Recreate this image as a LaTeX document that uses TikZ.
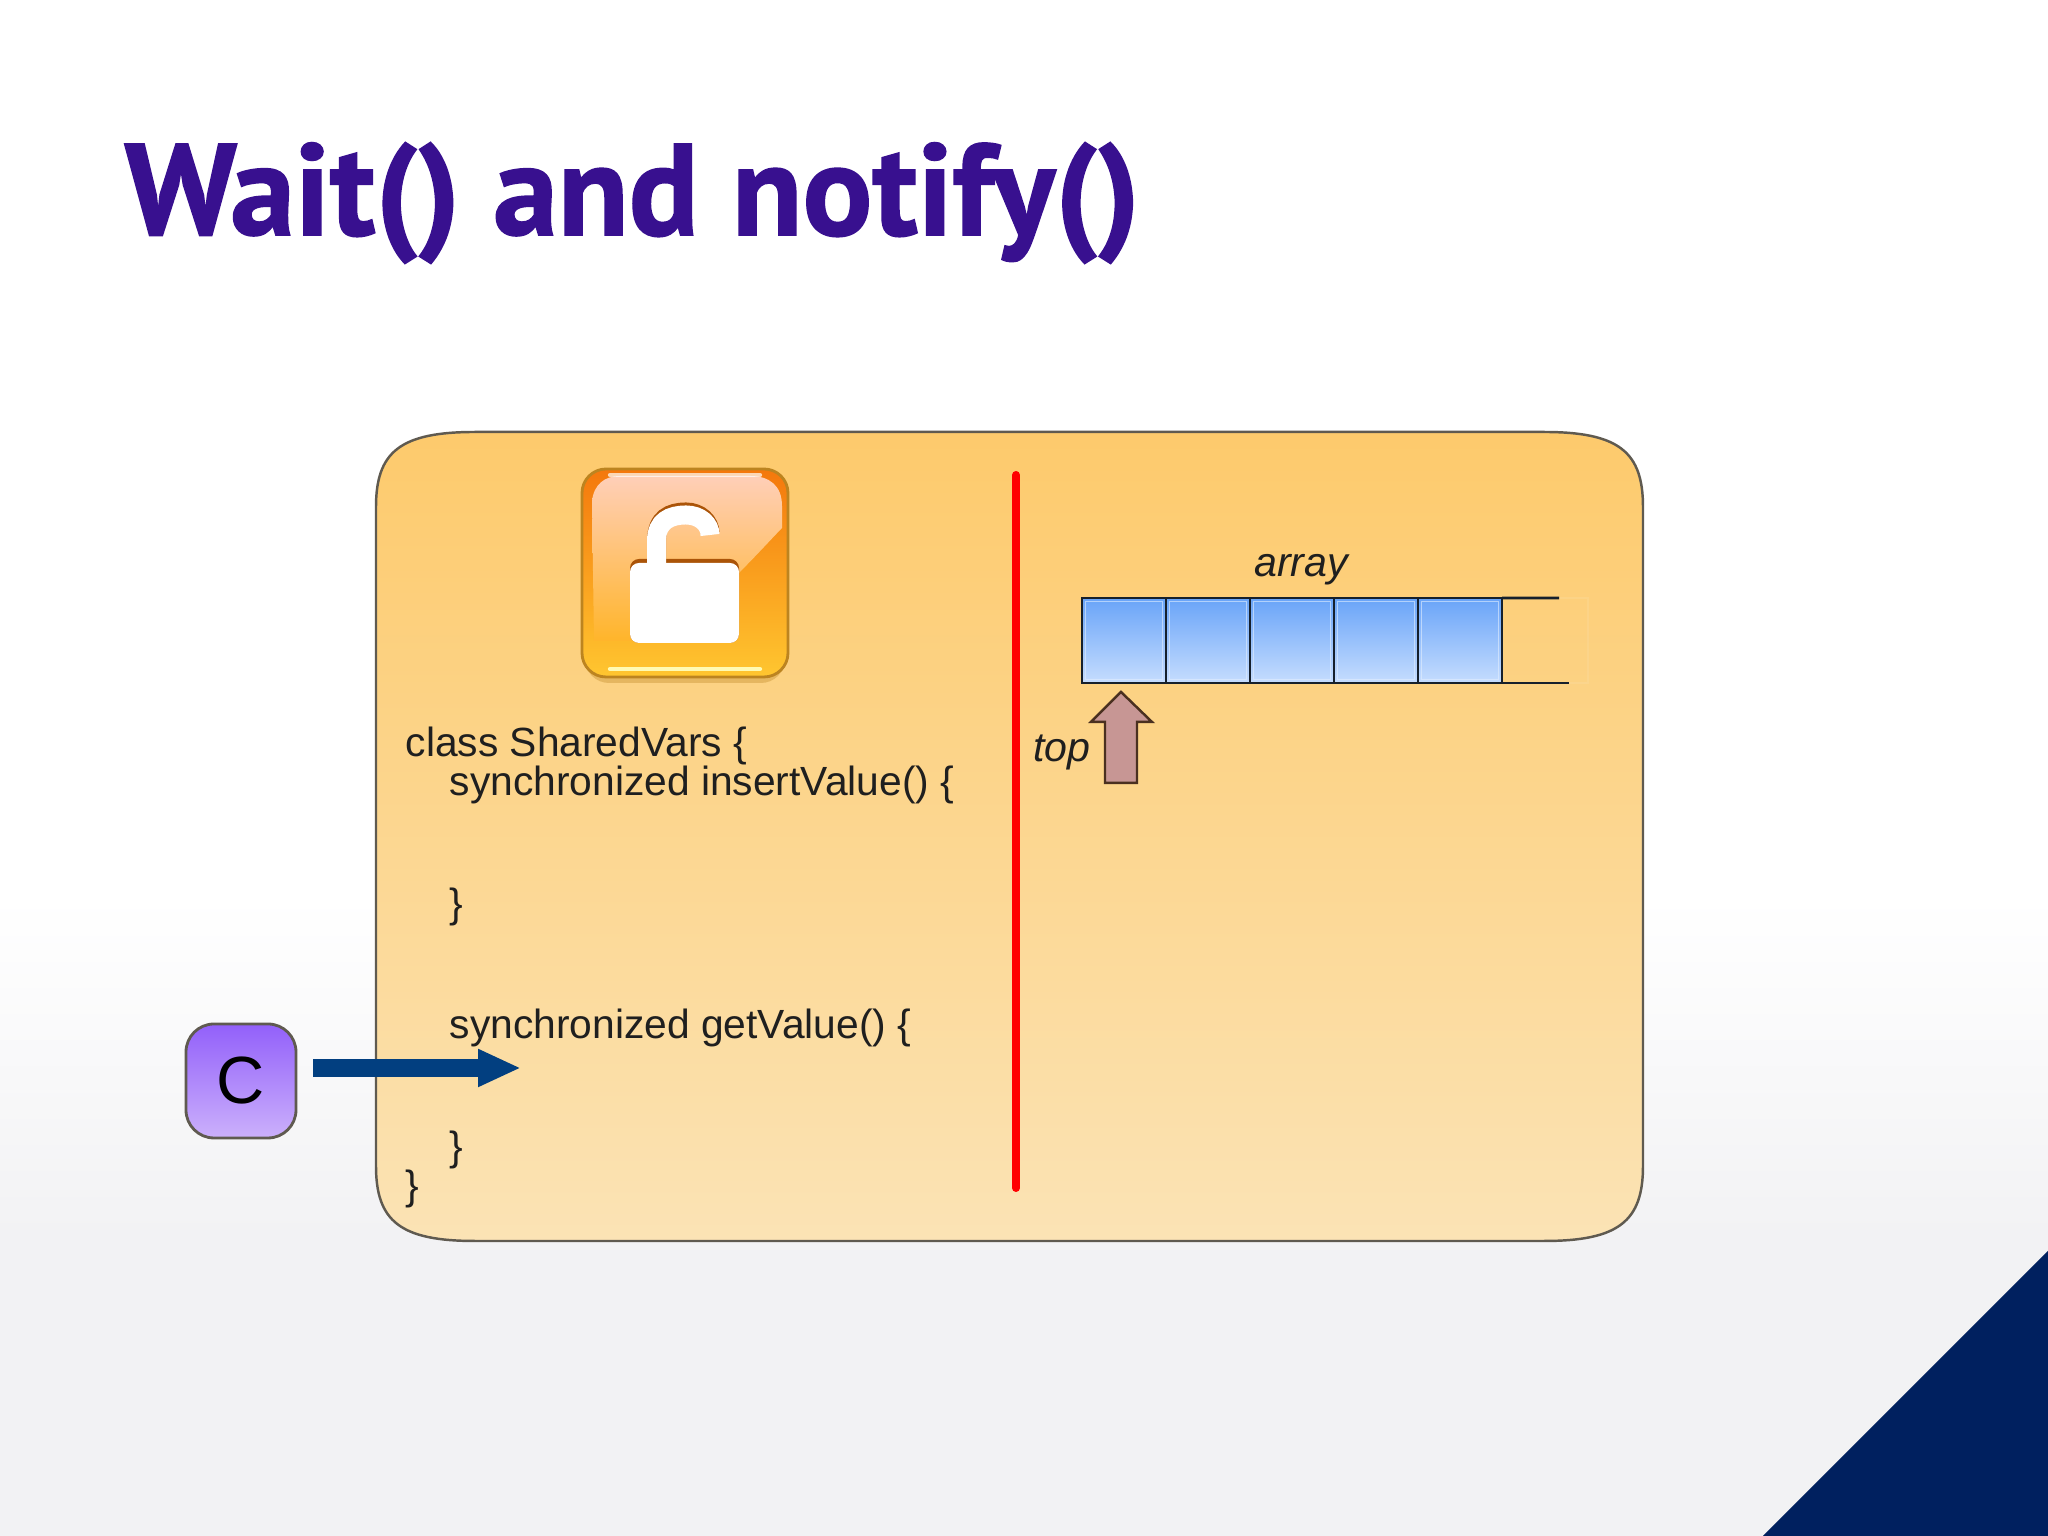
\documentclass[tikz,border=0pt]{standalone}
\usepackage{fontspec}
\setmainfont{Liberation Sans}
\newfontfamily\titlefont[BoldFeatures={FakeBold=1.2}]{PT Sans}
\usetikzlibrary{arrows.meta}
\definecolor{slidegray}{HTML}{F2F2F4}
\definecolor{titleviolet}{HTML}{38108F}
\definecolor{cornernavy}{HTML}{00205F}
\definecolor{panelline}{HTML}{5F5A50}
\definecolor{paneltop}{HTML}{FDCA6C}
\definecolor{panelbottom}{HTML}{FBE3B5}
\definecolor{celltop}{HTML}{69A4F8}
\definecolor{cellbottom}{HTML}{C6DDFE}
\definecolor{cellline}{HTML}{16202C}
\definecolor{toparrowfill}{HTML}{C79694}
\definecolor{toparrowline}{HTML}{4A3020}
\definecolor{calltop}{HTML}{9260FA}
\definecolor{callbottom}{HTML}{CBB0FB}
\definecolor{callblue}{HTML}{023F80}
\definecolor{lockline}{HTML}{BC8420}
\definecolor{lockhigh}{HTML}{F4780C}
\definecolor{lockmid}{HTML}{FF951F}
\definecolor{locklow}{HTML}{FFC630}
\definecolor{glosstop}{HTML}{FFCFB8}
\begin{document}
\begin{tikzpicture}
% Define styles
\tikzset{
    panel/.style={draw=panelline, line width=0.7pt, top color=paneltop, bottom color=panelbottom},
    code/.style={font=\fontsize{11.6}{13}\selectfont, text=black!88, anchor=base west, inner sep=0pt},
    tag/.style={font=\fontsize{11.7}{13}\selectfont\itshape, text=black!88, inner sep=0pt},
    cell/.style={draw=cellline, line width=0.8pt, top color=celltop, bottom color=cellbottom, minimum width=0.84cm, minimum height=0.85cm, inner sep=0pt, outer sep=0pt},
    thread/.style={draw=panelline, line width=0.8pt, top color=calltop, bottom color=callbottom, rounded corners=0.28cm, minimum width=1.10cm, minimum height=1.14cm, inner sep=0pt, font=\fontsize{19}{21}\selectfont},
    callarrow/.style={callblue, line width=0.18cm, shorten <=0.16cm, -{Triangle[length=0.43cm, width=0.35cm]}}
}
\useasboundingbox (0, 0) rectangle (20.48, 15.36);

% Background
\fill[white] (0, 15.36) rectangle (20.48, 6.4);
\shade[top color=white, bottom color=slidegray] (0, 6.4) rectangle (20.48, 3.0);
\fill[slidegray] (0, 3.02) rectangle (20.48, 0);
\fill[cornernavy] (17.63, 0) -- (20.48, 2.85) -- (20.48, 0) -- cycle;

% Title
\node[font=\fontsize{37}{40}\selectfont\titlefont\bfseries, text=titleviolet, anchor=base west, inner sep=0pt] (title) at (1.24, 13.01) {Wait() and notify()};

% Panel
\draw[panel] (3.76, 3.70) .. controls (3.76, 3.15) and (4.0, 2.95) .. (4.75, 2.95) -- (15.44, 2.95)
    .. controls (16.19, 2.95) and (16.43, 3.15) .. (16.43, 3.70) -- (16.43, 10.29)
    .. controls (16.43, 10.84) and (16.19, 11.04) .. (15.44, 11.04) -- (4.75, 11.04)
    .. controls (4.0, 11.04) and (3.76, 10.84) .. (3.76, 10.29) -- cycle;

% Red divider
\draw[red, line width=0.08cm, line cap=round] (10.16, 10.61) -- (10.16, 3.48);

% Lock icon
\fill[lockline, opacity=0.35, rounded corners=0.24cm] (5.85, 8.53) rectangle (7.85, 9.2);
\shade[draw=lockline, line width=0.8pt, rounded corners=0.24cm, top color=lockhigh, middle color=lockmid, bottom color=locklow] (5.82, 8.59) rectangle (7.88, 10.67);
\shade[top color=glosstop, bottom color=locklow!65!lockmid] (5.94, 8.95) -- (5.92, 10.35) .. controls (5.94, 10.52) and (6.05, 10.6) .. (6.2, 10.6) -- (7.5, 10.6) .. controls (7.7, 10.6) and (7.82, 10.5) .. (7.82, 10.3) -- (7.82, 10.08) .. controls (7.6, 9.85) and (7.45, 9.68) .. (7.2, 9.45) -- (6.6, 8.95) -- cycle;
\draw[white!70!yellow, line width=1.2pt, line cap=round] (6.1, 8.67) -- (7.6, 8.67);
\draw[white, opacity=0.7, line width=1.2pt, line cap=round] (6.1, 10.61) -- (7.6, 10.61);
\fill[lockhigh!70!black, rounded corners=0.09cm] (6.30, 8.93) rectangle (7.39, 9.77);
\fill[white, rounded corners=0.09cm] (6.30, 8.93) rectangle (7.39, 9.73);
\draw[lockhigh!70!black, line width=0.19cm] (6.565, 9.75) -- (6.565, 9.95) .. controls (6.565, 10.18) and (6.7, 10.24) .. (6.86, 10.24) .. controls (7.0, 10.24) and (7.1, 10.14) .. (7.1, 10.03);
\draw[white, line width=0.19cm] (6.565, 9.7) -- (6.565, 9.95) .. controls (6.565, 10.15) and (6.7, 10.21) .. (6.86, 10.21) .. controls (7.0, 10.21) and (7.1, 10.12) .. (7.1, 10.01);

% Code
\node[code] (classline) at (4.05, 7.79) {class SharedVars \{};
\node[code] (insertline) at (4.49, 7.40) {synchronized insertValue() \{};
\node[code] (insertend) at (4.49, 6.18) {\}};
\node[code] (getline) at (4.49, 4.97) {synchronized getValue() \{};
\node[code] (getend) at (4.49, 3.75) {\}};
\node[code] (classend) at (4.05, 3.36) {\}};

% Array
\node[tag] (arraylabel) at (13.01, 9.66) {array};
\foreach \i in {0, ..., 4} {
    \node[cell] (cell\i) at (11.24 + 0.84*\i, 8.955) {};
    \draw[cellbottom!50!white, opacity=0.6, line width=0.5pt] ([shift={(0.035, 0.035)}]cell\i.south west) rectangle ([shift={(-0.035, -0.035)}]cell\i.north east);
}
\coordinate (opentop) at (15.59, 9.38);
\coordinate (openbottom) at (15.69, 8.53);
\coordinate (fadetop) at (15.88, 9.38);
\coordinate (fadebottom) at (15.88, 8.53);
\draw[panelbottom, opacity=0.2, line width=0.6pt] (opentop) -- (fadetop) -- (fadebottom) -- (openbottom);
\draw[cellline, line width=0.8pt] (cell4.north east) -- (opentop);
\draw[cellline, line width=0.8pt] (cell4.south east) -- (openbottom);

% Top pointer
\node[tag] (toplabel) at (10.62, 7.84) {top};
\draw[toparrowline, fill=toparrowfill, line width=0.7pt] (11.05, 7.53) -- (11.05, 8.14) -- (10.91, 8.14) -- (11.21, 8.44) -- (11.52, 8.14) -- (11.37, 8.14) -- (11.37, 7.53) -- cycle;

% Thread and call arrow
\node[thread] (thread) at (2.41, 4.55) {C};
\coordinate (callend) at (5.21, 4.68);
\draw[callarrow] (thread.east |- callend) -- (callend);
\end{tikzpicture}
\end{document}
